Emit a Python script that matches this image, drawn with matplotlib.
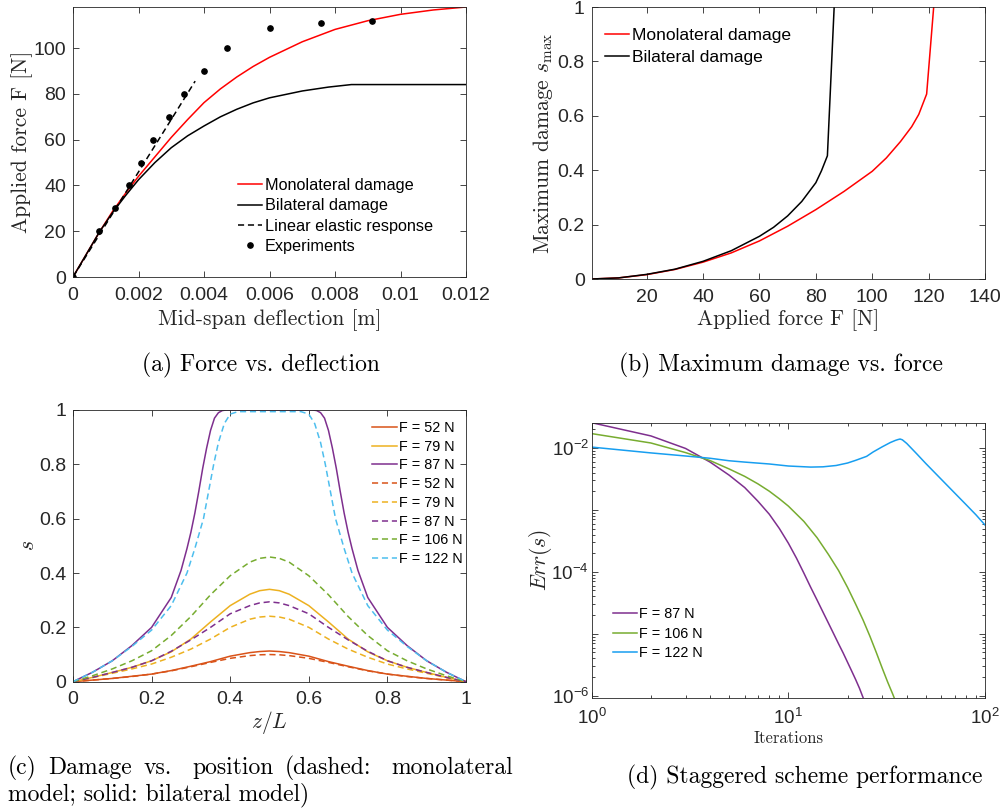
import matplotlib
matplotlib.use('Agg')
from matplotlib import pyplot as plt
from matplotlib.ticker import FixedLocator, LogLocator, NullFormatter

plt.rcParams['font.family'] = ['Liberation Sans', 'DejaVu Sans']
plt.rcParams['mathtext.fontset'] = 'custom'
plt.rcParams['mathtext.rm'] = 'Liberation Sans'
plt.rcParams['mathtext.it'] = 'Liberation Sans:italic'
plt.rcParams['mathtext.bf'] = 'Liberation Sans:bold'

INK = '#262626'
C_RED = '#D95319'
C_YEL = '#EDB120'
C_PUR = '#7E2F8E'
C_GRN = '#77AC30'
C_CYA = '#4DBEEE'
C_BLU = '#179EF0'

# (a) force vs deflection
defl_mono = [0, 0.0008, 0.0012, 0.0016, 0.002, 0.0025, 0.003, 0.0035, 0.004, 0.0045,
             0.005, 0.0055, 0.006, 0.007, 0.008, 0.009, 0.010, 0.011, 0.012]
force_mono = [0, 19.5, 28.5, 36.5, 44, 52.5, 61, 68.8, 76.2, 82.2, 87.4, 92, 96, 102.8,
              108.2, 112, 114.8, 116.7, 118]
defl_bil = [0, 0.0008, 0.0012, 0.0016, 0.002, 0.0025, 0.003, 0.0035, 0.004, 0.0045,
            0.005, 0.0055, 0.006, 0.007, 0.0078, 0.0085, 0.009, 0.010, 0.011, 0.012]
force_bil = [0, 19.5, 28, 35.5, 42.5, 50, 56.5, 61.7, 66, 70, 73.3, 76.1, 78.3, 81.3, 83,
             84.1, 84.1, 84.1, 84.1, 84.1]
defl_lin = [0, 0.00373]
force_lin = [0, 85.6]
defl_exp = [0, 0.0008, 0.00127, 0.00171, 0.00207, 0.00245, 0.00292, 0.00339, 0.00399,
            0.0047, 0.0060, 0.00756, 0.00913]
force_exp = [0, 20, 30, 40, 50, 60, 70, 80, 90, 100, 109, 111, 112]

# (b) maximum damage vs force
F_mono = [0.5, 10, 20, 30, 40, 50, 60, 70, 80, 90, 100, 105, 110, 114, 116.5, 119.3, 121.8]
smax_mono = [0, 0.004, 0.016, 0.035, 0.062, 0.096, 0.14, 0.194, 0.255, 0.322, 0.396,
             0.445, 0.505, 0.56, 0.605, 0.68, 1.0]
F_bil = [0.5, 10, 20, 30, 40, 50, 60, 65, 70, 75, 80, 82, 84.1, 86.5]
smax_bil = [0, 0.004, 0.017, 0.036, 0.065, 0.104, 0.157, 0.19, 0.232, 0.285, 0.354,
            0.398, 0.453, 1.0]

# (c) damage profiles
z_grid = [0, 0.05, 0.1, 0.15, 0.2, 0.25, 0.3, 0.35, 0.4, 0.45, 0.475, 0.5, 0.525,
          0.55, 0.6, 0.65, 0.7, 0.75, 0.8, 0.85, 0.9, 0.95, 1.0]
s_bil_52 = [0, 0.006, 0.012, 0.02, 0.028, 0.041, 0.057, 0.074, 0.094, 0.107, 0.111, 0.113,
            0.111, 0.107, 0.094, 0.074, 0.057, 0.041, 0.028, 0.02, 0.012, 0.006, 0]
s_bil_79 = [0, 0.016, 0.034, 0.053, 0.077, 0.11, 0.157, 0.22, 0.28, 0.322, 0.335, 0.34,
            0.335, 0.322, 0.28, 0.22, 0.157, 0.11, 0.077, 0.053, 0.034, 0.016, 0]
s_mono_52 = [0, 0.006, 0.012, 0.019, 0.028, 0.04, 0.055, 0.071, 0.086, 0.096, 0.099, 0.10,
             0.099, 0.096, 0.086, 0.071, 0.055, 0.04, 0.028, 0.019, 0.012, 0.006, 0]
s_mono_79 = [0, 0.015, 0.031, 0.047, 0.065, 0.09, 0.12, 0.157, 0.20, 0.23, 0.238, 0.241,
             0.238, 0.23, 0.20, 0.157, 0.12, 0.09, 0.065, 0.047, 0.031, 0.015, 0]
s_mono_87 = [0, 0.016, 0.034, 0.053, 0.077, 0.112, 0.154, 0.20, 0.25, 0.28, 0.29, 0.294,
             0.29, 0.28, 0.25, 0.20, 0.154, 0.112, 0.077, 0.053, 0.034, 0.016, 0]
s_mono_106 = [0, 0.022, 0.047, 0.077, 0.114, 0.17, 0.24, 0.32, 0.39, 0.44, 0.454, 0.459,
              0.454, 0.44, 0.39, 0.32, 0.24, 0.17, 0.114, 0.077, 0.047, 0.022, 0]
z_bil_87 = [0, 0.05, 0.1, 0.15, 0.2, 0.25, 0.275, 0.29, 0.3, 0.31, 0.32, 0.33, 0.34, 0.35,
            0.36, 0.37, 0.38, 0.39, 0.5, 0.61, 0.62, 0.63, 0.64, 0.65, 0.66, 0.67, 0.68,
            0.69, 0.7, 0.71, 0.725, 0.75, 0.8, 0.85, 0.9, 0.95, 1.0]
s_bil_87 = [0, 0.035, 0.077, 0.133, 0.2, 0.31, 0.41, 0.49, 0.55, 0.62, 0.70, 0.785, 0.86,
            0.925, 0.97, 0.99, 0.998, 1.0, 1.0, 1.0, 0.998, 0.99, 0.97, 0.925, 0.86, 0.785,
            0.70, 0.62, 0.55, 0.49, 0.41, 0.31, 0.2, 0.133, 0.077, 0.035, 0]
z_mono_122 = [0, 0.05, 0.1, 0.15, 0.2, 0.25, 0.29, 0.31, 0.332, 0.345, 0.358, 0.37, 0.385,
              0.4, 0.42, 0.5, 0.58, 0.6, 0.615, 0.63, 0.642, 0.655, 0.668, 0.69, 0.71,
              0.75, 0.8, 0.85, 0.9, 0.95, 1.0]
s_mono_122 = [0, 0.035, 0.077, 0.13, 0.19, 0.28, 0.4, 0.49, 0.6, 0.7, 0.8, 0.88, 0.95,
              0.985, 0.994, 0.994, 0.994, 0.985, 0.95, 0.88, 0.8, 0.7, 0.6, 0.49, 0.4,
              0.28, 0.19, 0.13, 0.077, 0.035, 0]

# (d) staggered scheme convergence
it_87 = list(range(1, 25))
err_87 = [0.0255, 0.0156, 0.0098, 0.0059, 0.00363, 0.00229, 0.00138, 8.5e-4, 5.0e-4,
          2.9e-4, 1.66e-4, 9.5e-5, 5.6e-5, 3.5e-5, 2.24e-5, 1.48e-5, 1.0e-5, 6.9e-6,
          4.9e-6, 3.47e-6, 2.5e-6, 1.82e-6, 1.32e-6, 9.3e-7]
it_106 = [1, 2, 3, 4, 5, 6, 7, 8, 9, 10, 12, 14, 16, 18, 20, 22, 24, 26, 28, 30, 32, 34, 35]
err_106 = [0.0170, 0.0120, 0.0084, 0.00624, 0.00457, 0.00347, 0.00263, 0.0020, 0.00151,
           0.00115, 6.5e-4, 3.55e-4, 1.9e-4, 1.05e-4, 5.6e-5, 3.0e-5, 1.66e-5, 9.1e-6,
           5.0e-6, 2.8e-6, 1.66e-6, 1.05e-6, 8.3e-7]
it_122 = [1, 2, 3, 4, 5, 6, 8, 10, 13, 15, 17.5, 20, 22, 25, 27, 30, 33, 35, 36, 37, 38,
          40, 45, 50, 60, 70, 80, 90, 100]
err_122 = [0.0103, 0.0083, 0.0074, 0.0068, 0.0062, 0.0059, 0.0055, 0.0051, 0.0049,
           0.00495, 0.0052, 0.0057, 0.0063, 0.0073, 0.0086, 0.0104, 0.0122, 0.0132,
           0.0136, 0.0139, 0.0135, 0.0118, 0.0080, 0.0056, 0.0031, 0.00188, 0.00122,
           8.3e-4, 5.7e-4]


def style_axes(ax):
    for sp in ax.spines.values():
        sp.set_color(INK)
        sp.set_linewidth(0.6)
    ax.tick_params(which='both', direction='in', top=True, right=True, colors=INK,
                   labelcolor=INK, width=0.6, labelsize=14)
    ax.tick_params(which='major', length=4)
    ax.tick_params(which='minor', length=2)
    ax.tick_params(axis='x', pad=7)
    ax.tick_params(axis='y', pad=5)


def cm_label(ax, axis, text, pos, size=15.5):
    kw = dict(fontfamily='cmr10', math_fontfamily='cm', fontsize=size, color=INK,
              va='center', ha='center')
    if axis == 'x':
        ax.set_xlabel(text, **kw)
        ax.xaxis.set_label_coords(*pos)
    else:
        ax.set_ylabel(text, **kw)
        ax.yaxis.set_label_coords(*pos)


fig = plt.figure(figsize=(10.05, 8.09), dpi=100)
W, H = 1005.0, 809.0


def box(l, r, t, b):
    return [l / W, 1 - b / H, (r - l) / W, (b - t) / H]


# (a)
ax = fig.add_axes(box(73, 466, 7, 277))
ax.plot(defl_mono, force_mono, color='#FF0000', lw=1.1, label='Monolateral damage')
ax.plot(defl_bil, force_bil, color='black', lw=1.1, label='Bilateral damage')
ax.plot(defl_lin, force_lin, color='black', lw=1.1, ls=(0, (4, 2.5)),
        label='Linear elastic response')
ax.plot(defl_exp, force_exp, 'o', color='black', ms=3.8, label='Experiments')
ax.set_xlim(0, 0.012)
ax.set_ylim(0, 118)
ax.set_xticks([0, 0.002, 0.004, 0.006, 0.008, 0.01, 0.012])
ax.set_xticklabels(['0', '0.002', '0.004', '0.006', '0.008', '0.01', '0.012'])
ax.set_yticks([0, 20, 40, 60, 80, 100])
style_axes(ax)
cm_label(ax, 'x', 'Mid-span deflection [m]', (0.5, -0.159))
cm_label(ax, 'y', 'Applied force F [N]', (-0.13, 0.5))
ax.legend(loc='upper left', bbox_to_anchor=(0.42, 0.367), frameon=False, fontsize=11.7,
          borderpad=0, borderaxespad=0, handlelength=1.5, handletextpad=0.15,
          labelspacing=0.33, numpoints=1)

# (b)
ax = fig.add_axes(box(591.7, 985, 7, 279))
ax.plot(F_mono, smax_mono, color='#FF0000', lw=1.1, label='Monolateral damage')
ax.plot(F_bil, smax_bil, color='black', lw=1.1, label='Bilateral damage')
ax.set_xlim(0.5, 140)
ax.set_ylim(0, 1)
ax.set_xticks([20, 40, 60, 80, 100, 120, 140])
ax.set_yticks([0, 0.2, 0.4, 0.6, 0.8, 1])
ax.set_yticklabels(['0', '0.2', '0.4', '0.6', '0.8', '1'])
style_axes(ax)
cm_label(ax, 'x', 'Applied force F [N]', (0.5, -0.152))
cm_label(ax, 'y', r'Maximum damage $s_{\max}$', (-0.125, 0.5))
ax.legend(loc='upper left', bbox_to_anchor=(0.035, 0.924), frameon=False, fontsize=12.6,
          borderpad=0, borderaxespad=0, handlelength=1.35, handletextpad=0.15,
          labelspacing=0.41)

# (c)
ax = fig.add_axes(box(73, 466, 410, 681.7))
dash = (0, (4, 2.5))
ax.plot(z_grid, s_bil_52, color=C_RED, lw=1.1, label='F = 52 N')
ax.plot(z_grid, s_bil_79, color=C_YEL, lw=1.1, label='F = 79 N')
ax.plot(z_bil_87, s_bil_87, color=C_PUR, lw=1.1, label='F = 87 N')
ax.plot(z_grid, s_mono_52, color=C_RED, lw=1.1, ls=dash, label='F = 52 N')
ax.plot(z_grid, s_mono_79, color=C_YEL, lw=1.1, ls=dash, label='F = 79 N')
ax.plot(z_grid, s_mono_87, color=C_PUR, lw=1.1, ls=dash, label='F = 87 N')
ax.plot(z_grid, s_mono_106, color=C_GRN, lw=1.1, ls=dash, label='F = 106 N')
ax.plot(z_mono_122, s_mono_122, color=C_CYA, lw=1.1, ls=dash, label='F = 122 N')
ax.set_xlim(0, 1)
ax.set_ylim(0, 1)
ticks01 = [0, 0.2, 0.4, 0.6, 0.8, 1]
labels01 = ['0', '0.2', '0.4', '0.6', '0.8', '1']
ax.set_xticks(ticks01)
ax.set_xticklabels(labels01)
ax.set_yticks(ticks01)
ax.set_yticklabels(labels01)
style_axes(ax)
cm_label(ax, 'x', r'$z/L$', (0.5, -0.15))
cm_label(ax, 'y', r'$s$', (-0.115, 0.5))
ax.legend(loc='upper left', bbox_to_anchor=(0.76, 0.96), frameon=False, fontsize=10.4,
          borderpad=0, borderaxespad=0, handlelength=1.75, handletextpad=0.15,
          labelspacing=0.33)

# (d)
ax = fig.add_axes(box(591.7, 985, 422.7, 698))
ax.plot(it_87, err_87, color=C_PUR, lw=1.1, label='F = 87 N')
ax.plot(it_106, err_106, color=C_GRN, lw=1.1, label='F = 106 N')
ax.plot(it_122, err_122, color=C_BLU, lw=1.1, label='F = 122 N')
ax.set_xscale('log')
ax.set_yscale('log')
ax.set_xlim(1, 100)
ax.set_ylim(9.2e-7, 0.0255)
ax.xaxis.set_major_locator(FixedLocator([1, 10, 100]))
ax.set_xticklabels([r'$\mathregular{10^{0}}$', r'$\mathregular{10^{1}}$',
                    r'$\mathregular{10^{2}}$'])
ax.xaxis.set_minor_locator(LogLocator(base=10, subs=range(2, 10)))
ax.xaxis.set_minor_formatter(NullFormatter())
ax.yaxis.set_major_locator(FixedLocator([1e-6, 1e-5, 1e-4, 1e-3, 1e-2]))
ax.set_yticklabels([r'$\mathregular{10^{-6}}$', '', r'$\mathregular{10^{-4}}$', '',
                    r'$\mathregular{10^{-2}}$'])
ax.yaxis.set_minor_locator(LogLocator(base=10, subs=range(2, 10), numticks=20))
ax.yaxis.set_minor_formatter(NullFormatter())
style_axes(ax)
ax.tick_params(labelsize=13.5)
ax.tick_params(axis='y', pad=2)
cm_label(ax, 'x', 'Iterations', (0.5, -0.148), size=12)
cm_label(ax, 'y', r'$Err(s)$', (-0.13, 0.5))
ax.legend(loc='upper left', bbox_to_anchor=(0.053, 0.329), frameon=False, fontsize=10.4,
          borderpad=0, borderaxespad=0, handlelength=1.7, handletextpad=0.15,
          labelspacing=0.37)

# captions
cap = dict(fontfamily='cmr10', fontsize=17, color='black', va='center')
fig.text(261 / W, 1 - 365 / H, '(a) Force vs. deflection', ha='center', **cap)
fig.text(781 / W, 1 - 365 / H, '(b) Maximum damage vs. force', ha='center', **cap)
fig.text(805 / W, 1 - 777 / H, '(d) Staggered scheme performance', ha='center', **cap)
fig.text(8 / W, 1 - 795 / H, 'model; solid: bilateral model)', ha='left', **cap)

# first caption line of (c) is justified between x = 8 and x = 513 px
words_c = ['(c)', 'Damage', 'vs.', 'position', '(dashed:', 'monolateral']
gap_weight = [1, 1, 1.7, 1, 1.7]
renderer = fig.canvas.get_renderer()
objs = [fig.text(0, 1 - 768 / H, w, ha='left', **cap) for w in words_c]
widths = [t.get_window_extent(renderer).width for t in objs]
free = (513 - 8) - sum(widths)
unit = free / sum(gap_weight)
x = 8.0
for i, t in enumerate(objs):
    t.set_x(x / W)
    x += widths[i] + (unit * gap_weight[i] if i < len(gap_weight) else 0)

fig.savefig('out.png', dpi=100)
